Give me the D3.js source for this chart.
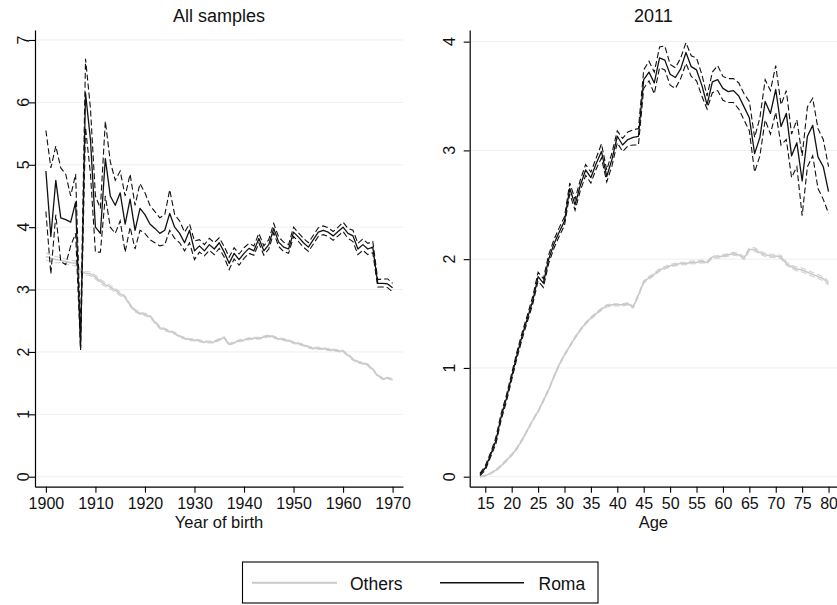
<!DOCTYPE html>
<html><head><meta charset="utf-8">
<script src="https://cdn.jsdelivr.net/npm/d3@7"></script>
<style>
html,body{margin:0;padding:0;background:#fff;}
svg{display:block;font-family:"Liberation Sans",Arial,Helvetica,sans-serif;}
</style></head>
<body><svg id="c" width="837" height="605"></svg>
<script>
// ---------- DATA ----------
const years = d3.range(1900, 1971);
const romaYearMean = [4.9,3.85,4.75,4.15,4.12,4.08,4.4,2.07,6.15,5.4,
 4.0,3.9,5.1,4.5,4.35,4.55,4.05,4.45,3.95,4.3,
 4.2,4.05,3.98,3.9,3.95,4.22,4.0,3.9,3.75,3.95,
 3.62,3.7,3.62,3.72,3.65,3.75,3.6,3.42,3.58,3.48,
 3.58,3.66,3.62,3.82,3.62,3.72,3.98,3.76,3.68,3.65,
 3.92,3.84,3.75,3.68,3.8,3.92,3.95,3.92,3.86,3.93,
 4.0,3.9,3.86,3.65,3.72,3.65,3.68,3.1,3.1,3.09,3.03];
const romaYearLow = [4.25,3.25,4.2,3.45,3.4,3.7,3.9,2.03,5.6,4.85,
 3.6,3.6,4.5,4.0,3.9,4.1,3.6,4.0,3.65,3.95,
 3.9,3.8,3.75,3.7,3.72,3.95,3.82,3.75,3.62,3.75,
 3.48,3.6,3.54,3.63,3.56,3.66,3.52,3.32,3.49,3.39,
 3.5,3.58,3.55,3.75,3.55,3.65,3.91,3.69,3.61,3.58,
 3.85,3.77,3.68,3.61,3.73,3.85,3.88,3.85,3.79,3.86,
 3.93,3.82,3.77,3.56,3.63,3.56,3.59,3.04,3.04,3.03,2.96];
const romaYearHigh = [5.55,4.95,5.3,4.95,4.85,4.5,4.85,2.3,6.7,5.9,
 4.5,4.3,5.7,5.05,4.75,4.9,4.5,4.85,4.35,4.7,
 4.55,4.35,4.25,4.15,4.2,4.6,4.2,4.1,3.92,4.05,
 3.78,3.8,3.72,3.82,3.75,3.83,3.69,3.52,3.67,3.57,
 3.67,3.74,3.7,3.9,3.7,3.8,4.06,3.84,3.76,3.72,
 4.0,3.91,3.82,3.75,3.87,3.99,4.02,3.99,3.93,4.0,
 4.08,3.98,3.95,3.74,3.81,3.74,3.77,3.16,3.17,3.17,3.1];
const othersYearMean = [3.53,3.5,3.48,3.47,3.45,3.43,3.42,3.3,3.26,3.25,
 3.2,3.13,3.08,3.04,2.99,2.93,2.88,2.75,2.66,2.62,
 2.6,2.57,2.48,2.39,2.36,2.33,2.3,2.25,2.22,2.2,
 2.19,2.18,2.16,2.16,2.16,2.2,2.23,2.12,2.15,2.18,
 2.19,2.21,2.22,2.22,2.24,2.26,2.24,2.21,2.2,2.18,
 2.15,2.13,2.11,2.08,2.06,2.06,2.05,2.04,2.03,2.02,
 2.01,1.95,1.88,1.84,1.82,1.79,1.72,1.62,1.57,1.58,1.56];
const othersYearHalf = [0.06,0.05,0.05,0.04,0.04,0.04,0.04,0.03,0.03,0.03,
 0.03,0.03,0.03,0.03,0.03,0.03,0.02,0.02,0.02,0.02,
 0.02,0.02,0.02,0.02,0.02,0.015,0.015,0.015,0.015,0.015,
 0.015,0.015,0.015,0.015,0.015,0.015,0.015,0.015,0.015,0.015,
 0.015,0.015,0.015,0.015,0.015,0.015,0.015,0.015,0.015,0.015,
 0.015,0.015,0.015,0.015,0.015,0.015,0.015,0.015,0.015,0.015,
 0.015,0.015,0.015,0.015,0.015,0.015,0.015,0.015,0.015,0.015,0.015];

const ages = d3.range(14, 81);
const romaAgeMean = [0.02,0.08,0.2,0.33,0.55,0.72,0.92,1.12,1.3,1.46,
 1.62,1.84,1.78,2.0,2.14,2.25,2.35,2.65,2.5,2.68,
 2.82,2.75,2.88,2.99,2.76,2.92,3.13,3.05,3.1,3.12,
 3.13,3.65,3.72,3.62,3.85,3.83,3.7,3.67,3.75,3.9,
 3.77,3.74,3.6,3.42,3.63,3.65,3.57,3.54,3.55,3.5,
 3.4,3.3,2.97,3.12,3.45,3.34,3.56,3.22,3.34,2.95,
 3.07,2.72,3.13,3.23,2.94,2.85,2.62];
const romaAgeLow = [0.01,0.06,0.18,0.3,0.52,0.69,0.89,1.09,1.27,1.43,
 1.59,1.8,1.74,1.96,2.1,2.21,2.31,2.6,2.45,2.63,
 2.77,2.7,2.83,2.93,2.71,2.86,3.07,2.99,3.04,3.05,
 3.05,3.57,3.64,3.52,3.76,3.74,3.6,3.57,3.66,3.8,
 3.68,3.64,3.5,3.38,3.53,3.55,3.46,3.44,3.44,3.38,
 3.28,3.18,2.8,2.95,3.28,3.15,3.35,3.05,3.1,2.75,
 2.85,2.4,2.85,2.95,2.65,2.55,2.42];
const romaAgeHigh = [0.03,0.1,0.22,0.36,0.58,0.75,0.95,1.15,1.33,1.49,
 1.66,1.88,1.82,2.04,2.18,2.29,2.39,2.7,2.55,2.73,
 2.87,2.8,2.93,3.06,2.82,2.98,3.18,3.11,3.17,3.19,
 3.2,3.74,3.82,3.72,3.95,3.96,3.79,3.76,3.85,3.99,
 3.87,3.85,3.7,3.5,3.72,3.78,3.68,3.66,3.66,3.62,
 3.52,3.45,3.12,3.3,3.65,3.55,3.78,3.42,3.55,3.15,
 3.28,2.95,3.4,3.48,3.2,3.1,2.85];
const othersAgeMean = [0.0,0.01,0.03,0.06,0.1,0.15,0.2,0.26,0.34,0.43,
 0.52,0.6,0.7,0.8,0.92,1.03,1.12,1.2,1.28,1.35,
 1.41,1.46,1.5,1.54,1.57,1.58,1.58,1.58,1.59,1.56,
 1.67,1.79,1.83,1.86,1.9,1.92,1.94,1.95,1.96,1.96,
 1.97,1.97,1.98,1.97,2.02,2.02,2.03,2.04,2.05,2.04,
 2.01,2.09,2.09,2.06,2.04,2.03,2.03,2.02,1.96,1.93,
 1.91,1.9,1.88,1.86,1.84,1.82,1.78];
const othersAgeHalf = [0.005,0.005,0.005,0.008,0.008,0.01,0.01,0.01,0.01,0.01,
 0.01,0.01,0.01,0.01,0.01,0.01,0.01,0.01,0.01,0.01,
 0.01,0.01,0.01,0.01,0.01,0.01,0.01,0.01,0.01,0.01,
 0.012,0.012,0.012,0.012,0.012,0.012,0.012,0.012,0.012,0.012,
 0.012,0.012,0.012,0.012,0.012,0.012,0.012,0.012,0.012,0.012,
 0.015,0.015,0.015,0.015,0.015,0.015,0.015,0.015,0.015,0.015,
 0.018,0.018,0.018,0.018,0.018,0.018,0.018];

const yearTicks = [1900,1910,1920,1930,1940,1950,1960,1970];
const ageTicks = [15,20,25,30,35,40,45,50,55,60,65,70,75,80];
const leftYTicks = [0,1,2,3,4,5,6,7];
const rightYTicks = [0,1,2,3,4];
const titles = ["All samples", "2011"];
const xTitles = ["Year of birth", "Age"];
const legendLabels = ["Others", "Roma"];

// ---------- DRAW ----------
const svg = d3.select("#c");
const FONT = "\"Liberation Sans\",Arial,Helvetica,sans-serif";
const OTH = "#c9c9c9", OTHCI = "#d2d2d2";

function panel(cfg) {
  const {x, y, xTicks, yTicks, title, xTitle, yLabelX, xs, mean, lo, hi, omean, ohalf} = cfg;
  const g = svg.append("g");
  const [x0, x1] = x.range();
  const [yb, yt] = y.range();
  // gridlines
  g.selectAll(".grid").data(yTicks).enter().append("line")
    .attr("x1", x0).attr("x2", x1)
    .attr("y1", d => y(d)).attr("y2", d => y(d))
    .attr("stroke", "#efefef").attr("stroke-width", 1);
  // axes
  const ax = g.append("g").attr("transform", `translate(0,${yb})`)
    .call(d3.axisBottom(x).tickValues(xTicks).tickFormat(d3.format("d"))
      .tickSize(6).tickSizeOuter(0).tickPadding(5));
  ax.select(".domain").attr("stroke", "#000").attr("stroke-width", 1.2);
  ax.selectAll(".tick line").attr("stroke", "#000").attr("stroke-width", 1.1);
  ax.selectAll("text").attr("font-size", 16).attr("font-family", FONT).attr("fill", "#111");
  const ay = g.append("g").attr("transform", `translate(${x0},0)`)
    .call(d3.axisLeft(y).tickValues(yTicks).tickSize(6).tickSizeOuter(0).tickFormat(""));
  ay.select(".domain").attr("stroke", "#000").attr("stroke-width", 1.2);
  ay.selectAll(".tick line").attr("stroke", "#000").attr("stroke-width", 1.1);
  g.selectAll(".ylab").data(yTicks).enter().append("text")
    .attr("transform", d => `translate(${yLabelX},${y(d)}) rotate(-90)`)
    .attr("text-anchor", "middle").attr("font-size", 16).attr("fill", "#111")
    .text(d => d);
  // titles
  g.append("text").attr("x", (x0 + x1) / 2).attr("y", 21.5).attr("text-anchor", "middle")
    .attr("font-size", 18).attr("fill", "#111").text(title);
  g.append("text").attr("x", (x0 + x1) / 2).attr("y", 528).attr("text-anchor", "middle")
    .attr("font-size", 16.5).attr("fill", "#111").text(xTitle);
  // lines
  const line = arr => d3.line().x((d, i) => x(xs[i])).y(d => y(d))(arr);
  const oLo = omean.map((v, i) => v - ohalf[i]);
  const oHi = omean.map((v, i) => v + ohalf[i]);
  [oLo, oHi].forEach(a => g.append("path").attr("d", line(a)).attr("fill", "none")
    .attr("stroke", OTHCI).attr("stroke-width", 1.1).attr("stroke-dasharray", "6,3"));
  g.append("path").attr("d", line(omean)).attr("fill", "none")
    .attr("stroke", OTH).attr("stroke-width", 1.5).attr("stroke-linejoin", "round");
  [lo, hi].forEach(a => g.append("path").attr("d", line(a)).attr("fill", "none")
    .attr("stroke", "#111").attr("stroke-width", 1.1).attr("stroke-dasharray", "6,3"));
  g.append("path").attr("d", line(mean)).attr("fill", "none")
    .attr("stroke", "#111").attr("stroke-width", 1.3).attr("stroke-linejoin", "round");
}

panel({
  x: d3.scaleLinear().domain([1897.8, 1972.1]).range([35, 403]),
  y: d3.scaleLinear().domain([-0.16, 7.16]).range([486.7, 30]),
  xTicks: yearTicks, yTicks: leftYTicks, title: titles[0], xTitle: xTitles[0], yLabelX: 28.5,
  xs: years, mean: romaYearMean, lo: romaYearLow, hi: romaYearHigh,
  omean: othersYearMean, ohalf: othersYearHalf
});
panel({
  x: d3.scaleLinear().domain([12.05, 81.6]).range([469.7, 837]),
  y: d3.scaleLinear().domain([-0.092, 4.107]).range([486.7, 30]),
  xTicks: ageTicks, yTicks: rightYTicks, title: titles[1], xTitle: xTitles[1], yLabelX: 455,
  xs: ages, mean: romaAgeMean, lo: romaAgeLow, hi: romaAgeHigh,
  omean: othersAgeMean, ohalf: othersAgeHalf
});

// legend
const lg = svg.append("g");
lg.append("rect").attr("x", 242.5).attr("y", 562).attr("width", 355.5).attr("height", 41)
  .attr("fill", "#fff").attr("stroke", "#000").attr("stroke-width", 1.1);
const legItems = [
  {label: legendLabels[0], x1: 252, x2: 337, tx: 350, color: OTH, w: 2},
  {label: legendLabels[1], x1: 440, x2: 524, tx: 538.5, color: "#111", w: 1.5}
];
legItems.forEach(d => {
  lg.append("line").attr("x1", d.x1).attr("x2", d.x2).attr("y1", 582.7).attr("y2", 582.7)
    .attr("stroke", d.color).attr("stroke-width", d.w);
  lg.append("text").attr("x", d.tx).attr("y", 589.5).attr("font-size", 17.5).attr("fill", "#111").text(d.label);
});
</script>
</body></html>
